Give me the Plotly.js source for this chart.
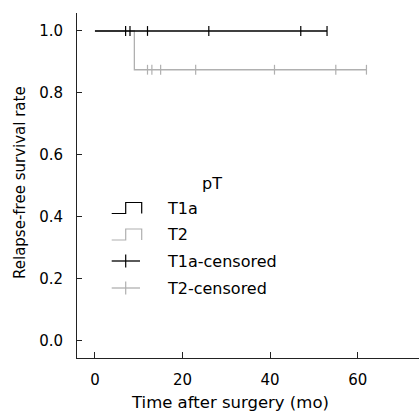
<!DOCTYPE html>
<html>
<head>
<meta charset="utf-8">
<script src="https://cdn.plot.ly/plotly-3.0.1.min.js"></script>
<style>html,body{margin:0;padding:0;background:#fff;}#chart{width:419px;height:412px;}</style>
</head>
<body>
<div id="chart"></div>
<script>
// ---- data ----
const groups = ["T1a", "T2"];
const legendTitle = "pT";
const t1aStepX = [0, 53];
const t1aStepY = [1.0, 1.0];
const t2StepX = [0, 9, 62];
const t2StepY = [1.0, 0.875, 0.875];
const t1aCensorX = [7, 8, 12, 26, 47, 53];
const t1aCensorY = [1.0, 1.0, 1.0, 1.0, 1.0, 1.0];
const t2CensorX = [12, 13, 15, 23, 41, 55, 62];
const t2CensorY = [0.875, 0.875, 0.875, 0.875, 0.875, 0.875, 0.875];
const xTickVals = [0, 20, 40, 60];
const yTickVals = [0.0, 0.2, 0.4, 0.6, 0.8, 1.0];
const xTitle = "Time after surgery (mo)";
const yTitle = "Relapse-free survival rate";

// ---- style ----
const FONT = "DejaVu Sans, Verdana, sans-serif";
const C1 = "#000000", C2 = "#b0b0b0";
const W = 419, H = 412, ML = 77, MR = 0, MT = 13, MB = 54;
const PW = W - ML - MR, PH = H - MT - MB;
const px = x => (x - ML) / PW;
const py = y => (H - MB - y) / PH;

const traces = [
  {x: t2StepX, y: t2StepY, mode: "lines", line: {shape: "hv", color: C2, width: 1.3}, name: groups[1], showlegend: false, hoverinfo: "skip"},
  {x: t1aStepX, y: t1aStepY, mode: "lines", line: {shape: "hv", color: C1, width: 1.3}, name: groups[0], showlegend: false, hoverinfo: "skip"},
  {x: t1aCensorX, y: t1aCensorY, mode: "markers", marker: {symbol: "line-ns", size: 7, line: {color: C1, width: 1.2}}, name: groups[0] + "-censored", showlegend: false},
  {x: t2CensorX, y: t2CensorY, mode: "markers", marker: {symbol: "line-ns", size: 7, line: {color: C2, width: 1.2}}, name: groups[1] + "-censored", showlegend: false}
];

// manual legend
const legendLabels = [groups[0], groups[1], groups[0] + "-censored", groups[1] + "-censored"];
const legendColors = [C1, C2, C1, C2];
const rowY = [208, 234.5, 261, 288];
const textX = 165;
const shapes = [];
const annotations = [];
annotations.push({text: legendTitle, x: px(211.5), y: py(183.5), xref: "paper", yref: "paper", xanchor: "center", yanchor: "middle", showarrow: false, font: {family: FONT, size: 16, color: "#000"}});
legendLabels.forEach((lab, i) => {
  const y = rowY[i];
  annotations.push({text: lab, x: px(textX), y: py(y), xref: "paper", yref: "paper", xanchor: "left", yanchor: "middle", showarrow: false, font: {family: FONT, size: 16, color: "#000"}});
  if (i < 2) {
    const yl = y + 5.5, yh = y - 5.5;
    const path = `M ${px(111.7)} ${py(yl)} L ${px(125.7)} ${py(yl)} L ${px(125.7)} ${py(yh)} L ${px(141.7)} ${py(yh)} L ${px(141.7)} ${py(yl)}`;
    shapes.push({type: "path", xref: "paper", yref: "paper", path: path, line: {color: legendColors[i], width: 1.2}});
  } else {
    shapes.push({type: "line", xref: "paper", yref: "paper", x0: px(111.7), x1: px(140), y0: py(y), y1: py(y), line: {color: legendColors[i], width: 1.3}});
    shapes.push({type: "line", xref: "paper", yref: "paper", x0: px(125.7), x1: px(125.7), y0: py(y - 6.5), y1: py(y + 6.5), line: {color: legendColors[i], width: 1.2}});
  }
});
annotations.push({text: xTitle, x: px(230), y: py(403), xref: "paper", yref: "paper", xanchor: "center", yanchor: "middle", showarrow: false, font: {family: FONT, size: 16.5, color: "#000"}});
annotations.push({text: yTitle, x: px(20), y: py(183), xref: "paper", yref: "paper", xanchor: "center", yanchor: "middle", textangle: -90, showarrow: false, font: {family: FONT, size: 15, color: "#000"}});

const layout = {
  width: W, height: H,
  margin: {l: ML, r: MR, t: MT, b: MB, pad: 0},
  paper_bgcolor: "#fff", plot_bgcolor: "#fff",
  showlegend: false,
  font: {family: FONT, size: 15, color: "#000"},
  xaxis: {range: [-4.1, 74], tickvals: xTickVals, ticks: "inside", ticklen: 6, tickcolor: "#222", tickwidth: 1,
          showline: true, linecolor: "#222", linewidth: 1, showgrid: false, zeroline: false,
          ticklabelstandoff: 8, tickfont: {family: FONT, size: 15, color: "#000"}},
  yaxis: {range: [-0.055, 1.058], tickvals: yTickVals, tickformat: ".1f", ticks: "inside", ticklen: 5, tickcolor: "#222", tickwidth: 1,
          showline: true, linecolor: "#222", linewidth: 1, showgrid: false, zeroline: false,
          ticklabelstandoff: 10, tickfont: {family: FONT, size: 15, color: "#000"}},
  shapes: shapes,
  annotations: annotations
};
Plotly.newPlot("chart", traces, layout, {displayModeBar: false, staticPlot: true});
</script>
</body>
</html>
